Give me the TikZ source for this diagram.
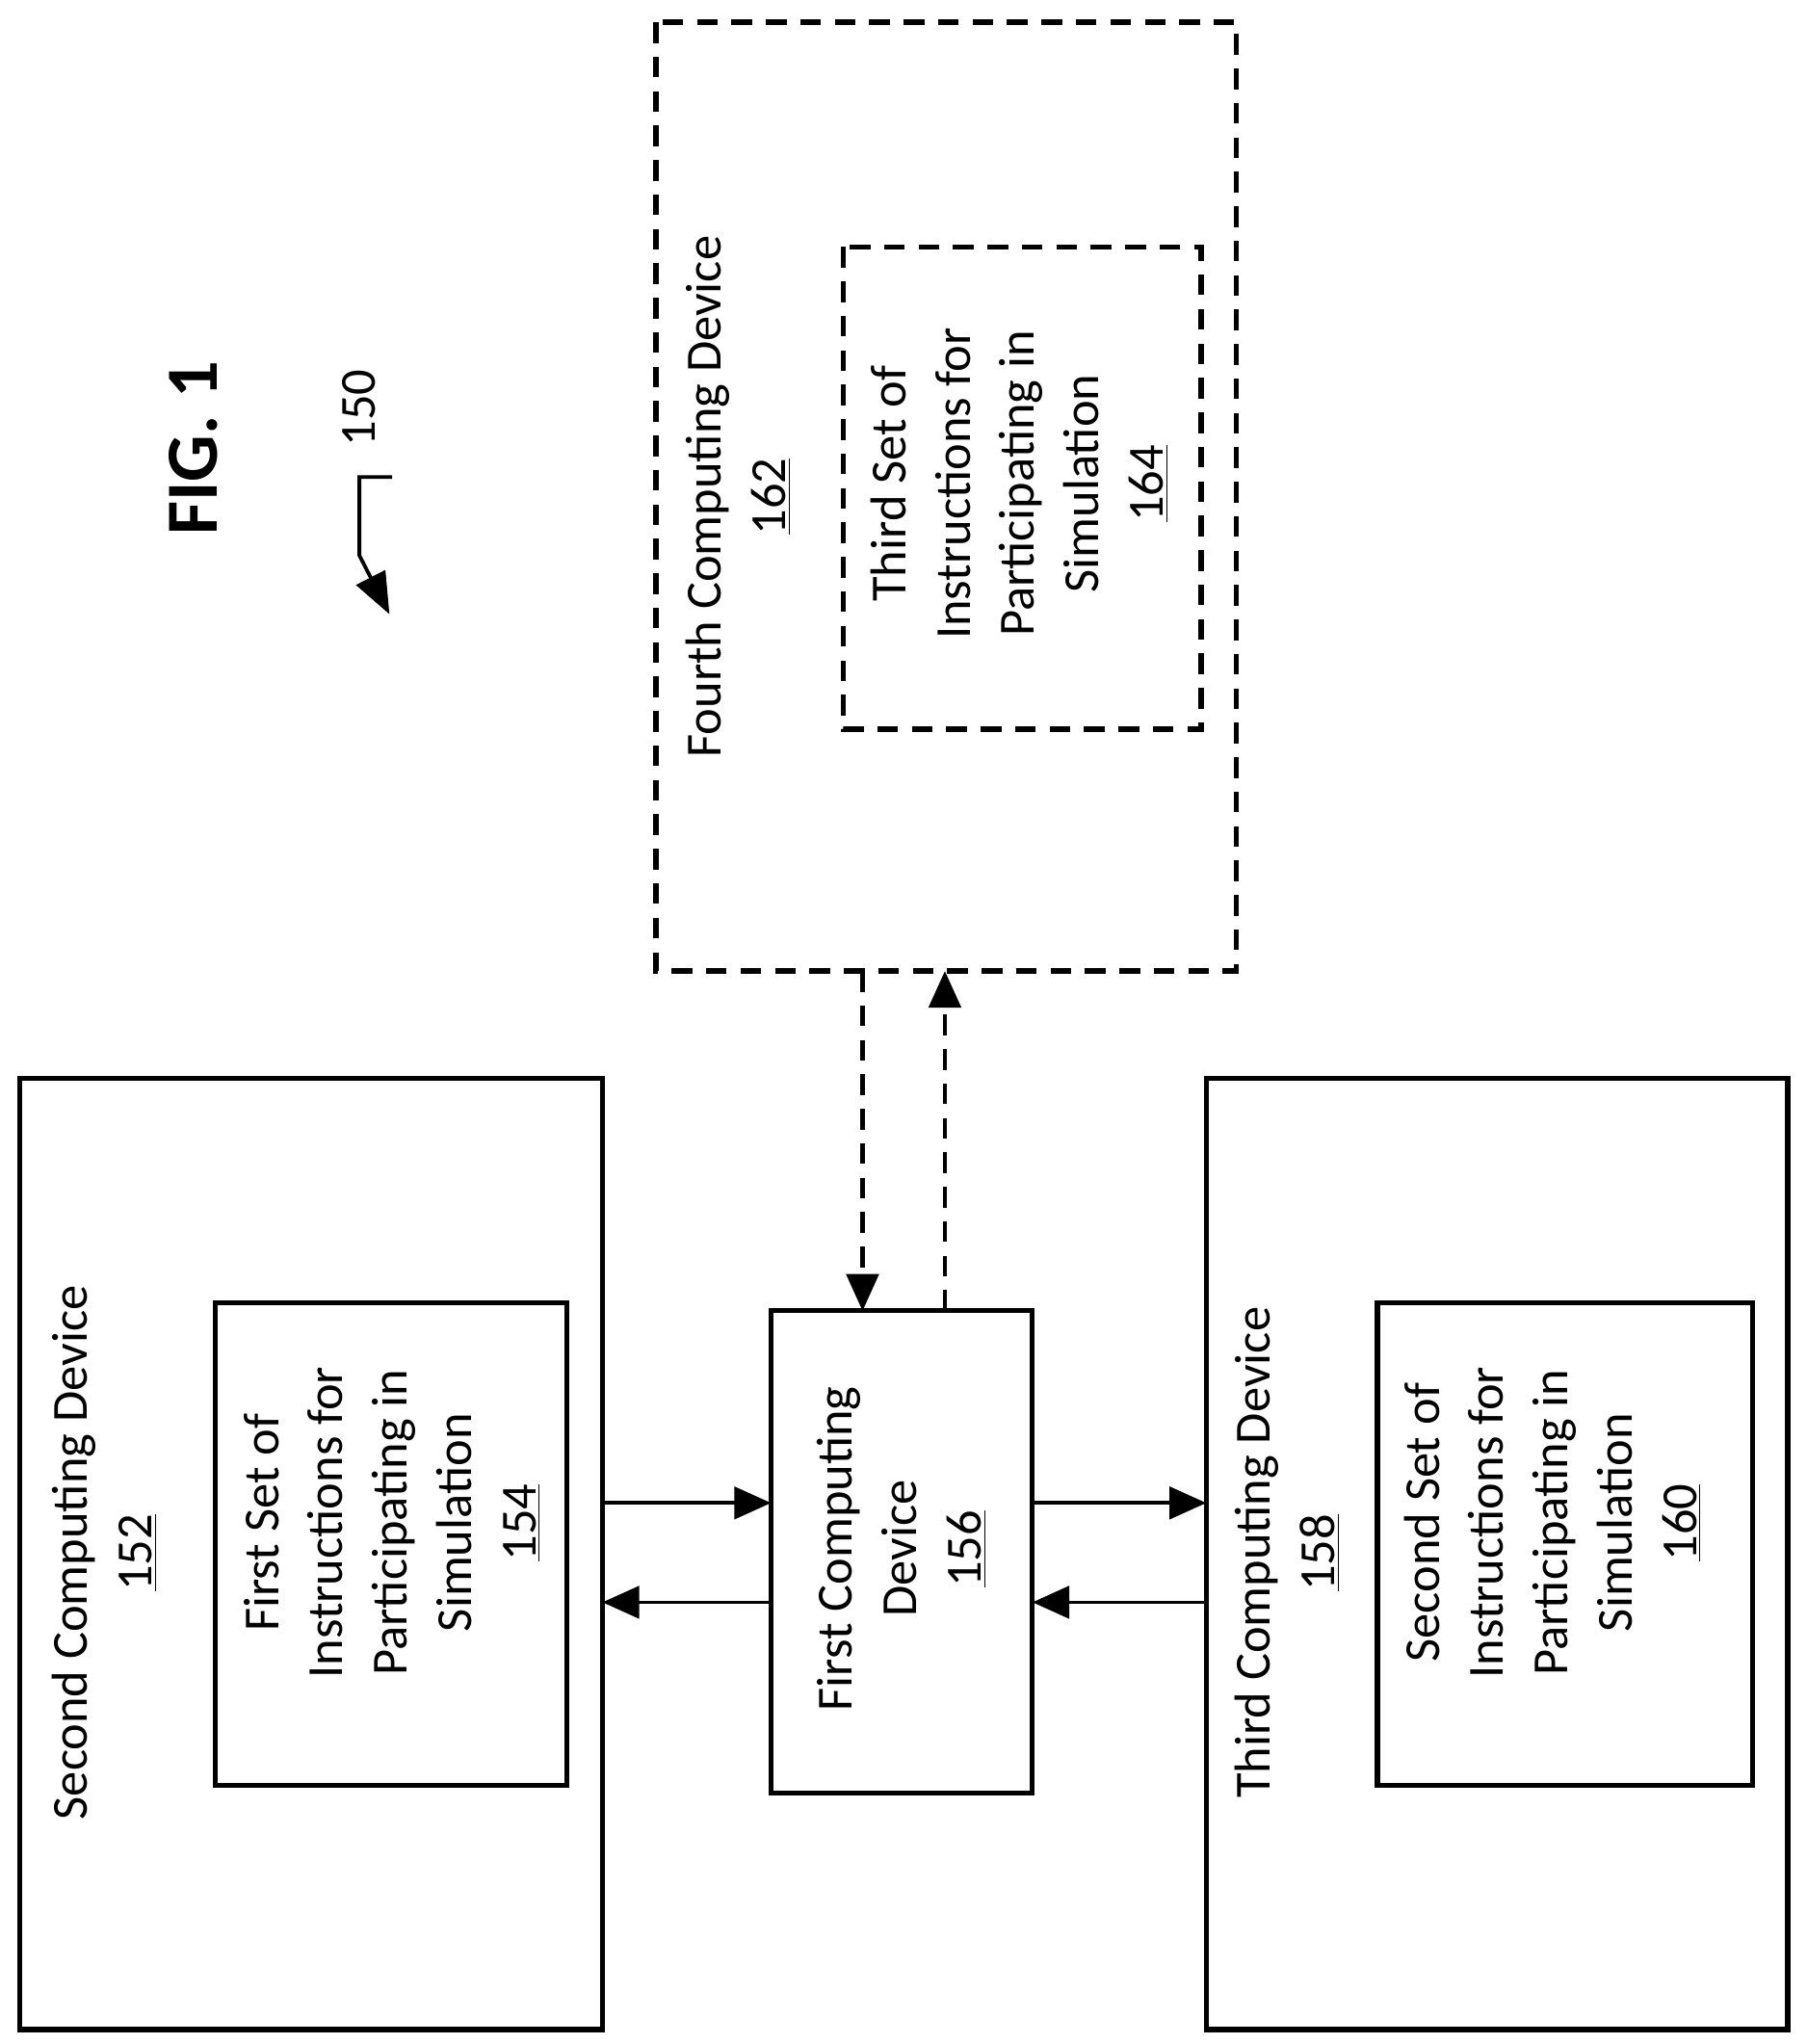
\documentclass[tikz,border=0pt]{standalone}
\usepackage{fontspec}
\setmainfont{Carlito}
\usetikzlibrary{arrows.meta}
\begin{document}
\begin{tikzpicture}[x=0.02cm,y=-0.02cm,
  box/.style={draw,line width=2.2pt},
  dbox/.style={draw,line width=2.2pt,dash pattern=on 9pt off 6pt},
  txt/.style={rotate=90,align=center,font=\fontsize{22}{28}\selectfont},
  arr/.style={line width=1.6pt,-{Triangle[length=16pt,width=14pt]}},
  darr/.style={line width=1.8pt,dash pattern=on 9pt off 6pt,-{Triangle[length=16pt,width=14pt]}}]
\useasboundingbox (0,0) rectangle (1382,1564);
% boxes
\draw[box] (15,825) rectangle (461,1553);
\draw[box] (165,997) rectangle (434,1366);
\draw[box] (590,1003) rectangle (790,1372);
\draw[box] (923,825) rectangle (1368,1553);
\draw[box] (1054,997) rectangle (1341,1366);
\draw[dbox] (502,17) rectangle (946,743);
\draw[dbox] (645,189) rectangle (919,558);
% named anchor coordinates
\coordinate (s1) at (461,1150); \coordinate (f1) at (590,1150);
\coordinate (s2) at (461,1226); \coordinate (f2) at (590,1226);
\coordinate (f3) at (790,1150); \coordinate (t1) at (923,1150);
\coordinate (f4) at (790,1226); \coordinate (t2) at (923,1226);
\coordinate (ua) at (660,743); \coordinate (fa) at (660,1003);
\coordinate (ub) at (723,743); \coordinate (fb) at (723,1003);
\draw[arr] (s1) -- (f1);
\draw[arr] (f2) -- (s2);
\draw[arr] (f3) -- (t1);
\draw[arr] (t2) -- (f4);
\draw[darr] (ua) -- (fa);
\draw[darr] (fb) -- (ub);
% texts
\node[txt] (n152) at (80,1188) {Second Computing Device\\\underline{152}};
\node[txt] (n154) at (300,1165) {First Set of\\Instructions for\\Participating in\\Simulation\\\underline{154}};
\node[txt] (n156) at (690,1185) {First Computing\\Device\\\underline{156}};
\node[txt] (n158) at (985,1188) {Third Computing Device\\\underline{158}};
\node[txt] (n160) at (1188,1165) {Second Set of\\Instructions for\\Participating in\\Simulation\\\underline{160}};
\node[txt] (n162) at (565,380) {Fourth Computing Device\\\underline{162}};
\node[txt] (n164) at (780,370) {Third Set of\\Instructions for\\Participating in\\Simulation\\\underline{164}};
\node[rotate=90,font=\fontsize{32}{36}\selectfont\bfseries] (fig) at (148,343) {FIG. 1};
\node[rotate=90,font=\fontsize{22}{26}\selectfont] (n150) at (275,312) {150};
\coordinate (l0) at (300,365);
\coordinate (l1) at (275,425);
\coordinate (l2) at (298,470);
\draw[line width=1.6pt,-{Triangle[length=18pt,width=14pt]}] (l0) -- (275,365) -- (l1) -- (l2);
\end{tikzpicture}
\end{document}
